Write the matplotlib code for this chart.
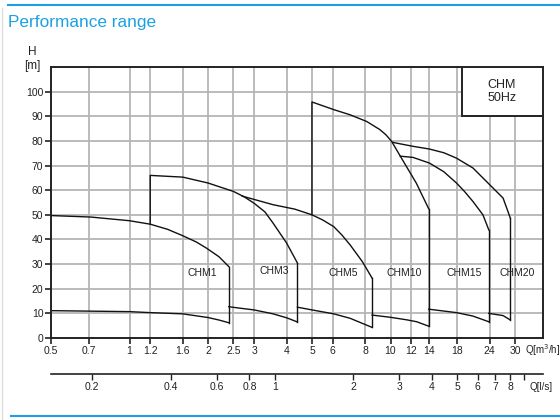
import numpy as np
import matplotlib
matplotlib.use("Agg")
import matplotlib.pyplot as plt
from matplotlib.lines import Line2D
from matplotlib.patches import Rectangle

plt.rcParams['font.family'] = ['Liberation Sans', 'DejaVu Sans']

# performance curves, Q in m3/h, H in m
chm1_top_q = [0.5, 0.71, 1.0, 1.2, 1.4, 1.6, 1.8, 1.97, 2.2, 2.4]
chm1_top_h = [49.7, 49.1, 47.6, 46.2, 44.1, 41.5, 39.0, 36.5, 33.0, 29.0]
chm1_bot_q = [0.5, 1.0, 1.2, 1.6, 2.0, 2.2, 2.4]
chm1_bot_h = [11.1, 10.7, 10.3, 9.8, 8.3, 7.3, 6.2]

chm3_top_q = [1.2, 1.2, 1.6, 2.0, 2.5, 2.75, 3.0, 3.3, 3.55, 4.0, 4.4]
chm3_top_h = [46.2, 66.0, 65.3, 62.9, 59.5, 57.3, 54.7, 51.2, 46.6, 38.5, 30.4]
chm3_bot_q = [2.4, 2.65, 3.0, 3.55, 4.0, 4.4]
chm3_bot_h = [12.7, 12.1, 11.4, 9.8, 8.2, 6.5]

chm5_top_q = [2.7, 3.55, 4.3, 5.0, 5.5, 6.06, 6.5, 7.0, 7.8, 8.5]
chm5_top_h = [57.6, 54.1, 52.3, 50.0, 47.9, 45.2, 41.9, 37.8, 31.0, 24.3]
chm5_bot_q = [4.4, 5.0, 6.06, 7.0, 8.5]
chm5_bot_h = [12.5, 11.4, 9.8, 8.0, 4.3]

chm10_top_q = [5.0, 5.0, 6.06, 7.0, 8.1, 9.1, 9.6, 10.1, 11.1, 12.55, 14.0]
chm10_top_h = [50.0, 95.8, 92.7, 90.6, 87.9, 84.6, 82.5, 79.8, 72.4, 62.9, 52.5]
chm10_bot_q = [8.5, 10.0, 11.5, 12.6, 14.0]
chm10_bot_h = [9.3, 8.4, 7.4, 6.6, 4.8]

chm15_top_q = [10.9, 12.2, 14.1, 16.0, 17.9, 19.2, 20.7, 22.6, 23.8]
chm15_top_h = [73.8, 73.3, 71.0, 67.5, 62.9, 59.5, 55.4, 50.0, 43.9]
chm15_bot_q = [14.0, 17.9, 20.7, 23.8]
chm15_bot_h = [11.7, 10.3, 8.9, 6.6]

chm20_top_q = [10.2, 12.2, 14.1, 16.0, 17.9, 20.7, 24.0, 27.0, 28.8]
chm20_top_h = [79.4, 77.8, 76.7, 75.2, 73.0, 69.0, 62.2, 56.8, 48.6]
chm20_bot_q = [23.8, 27.0, 28.8]
chm20_bot_h = [10.0, 9.1, 7.3]

labels = ["CHM1", "CHM3", "CHM5", "CHM10", "CHM15", "CHM20"]
label_q = [1.9, 3.6, 6.6, 11.3, 19.2, 30.5]
label_h = [26.5, 27.0, 26.5, 26.5, 26.5, 26.5]

q_ticks = [0.5, 0.7, 1, 1.2, 1.6, 2, 2.5, 3, 4, 5, 6, 8, 10, 12, 14, 18, 24, 30]
q_labels = ["0.5", "0.7", "1", "1.2", "1.6", "2", "2.5", "3", "4", "5", "6",
            "8", "10", "12", "14", "18", "24", "30"]
ls_ticks = [0.2, 0.4, 0.6, 0.8, 1, 2, 3, 4, 5, 6, 7, 8, 9]
ls_labels = ["0.2", "0.4", "0.6", "0.8", "1", "2", "3", "4", "5", "6", "7", "8", ""]
h_ticks = list(range(0, 101, 10))

curves = [
    (chm1_top_q, chm1_top_h, chm1_bot_q, chm1_bot_h),
    (chm3_top_q, chm3_top_h, chm3_bot_q, chm3_bot_h),
    (chm5_top_q, chm5_top_h, chm5_bot_q, chm5_bot_h),
    (chm10_top_q, chm10_top_h, chm10_bot_q, chm10_bot_h),
    (chm15_top_q, chm15_top_h, chm15_bot_q, chm15_bot_h),
    (chm20_top_q, chm20_top_h, chm20_bot_q, chm20_bot_h),
]

fig = plt.figure(figsize=(5.6, 4.2), dpi=100)
ax = fig.add_axes([51/560, 82/420, 492/560, 271/420])
ax.set_xscale('log')
ax.set_xlim(0.5, 38.4)
ax.set_ylim(0, 110)

grid_c = '#b5b5b5'
for q in q_ticks[1:]:
    ax.axvline(q, color=grid_c, lw=1.3, zorder=1)
for h in h_ticks[1:]:
    ax.axhline(h, color=grid_c, lw=1.3, zorder=1)

for tq, th, bq, bh in curves:
    ax.plot(tq, th, color='#111111', lw=1.0, zorder=3)
    ax.plot(bq, bh, color='#111111', lw=1.0, zorder=3)
    # right edge of the range
    ax.plot([tq[-1], bq[-1]], [th[-1], bh[-1]], color='#111111', lw=1.0, zorder=3)

for name, q, h in zip(labels, label_q, label_h):
    ax.text(q, h, name, fontsize=7.5, ha='center', va='center', color='#222222', zorder=4)

ax.set_xticks(q_ticks)
ax.set_xticklabels(q_labels)
ax.xaxis.set_minor_locator(matplotlib.ticker.NullLocator())
ax.set_yticks(h_ticks)
ax.tick_params(axis='both', labelsize=7.5, length=4, width=1.2, color='#222222',
               labelcolor='#222222', pad=1.5)
for s in ax.spines.values():
    s.set_linewidth(1.4)
    s.set_color('#222222')
    s.set_zorder(5)

ax.text(0.963, -0.045, "Q[m$^3$/h]", transform=ax.transAxes, fontsize=7,
        ha='left', va='center', color='#222222')

# l/s scale underneath
sec = ax.secondary_xaxis(-0.133, functions=(lambda q: q / 3.6, lambda l: l * 3.6))
sec.set_xticks(ls_ticks)
sec.set_xticklabels(ls_labels)
sec.xaxis.set_minor_locator(matplotlib.ticker.NullLocator())
sec.tick_params(labelsize=7.5, length=4, width=1.0, color='#222222',
                labelcolor='#222222', pad=2)
sec.spines['bottom'].set_linewidth(1.2)
sec.spines['bottom'].set_color('#222222')
ax.text(0.972, -0.18, "Q[l/s]", transform=ax.transAxes, fontsize=7,
        ha='left', va='center', color='#222222')

# model box
ax.add_patch(Rectangle((0.835, 0.819), 0.165, 0.181, transform=ax.transAxes,
                       facecolor='white', edgecolor='#222222', lw=1.4, zorder=6))
ax.text(0.916, 0.91, "CHM\n50Hz", transform=ax.transAxes, fontsize=9,
        ha='center', va='center', color='#222222', linespacing=1.15, zorder=7)

fig.text(32/560, 1 - 52/420, "H", fontsize=8.5, ha='center', va='center', color='#222222')
fig.text(32/560, 1 - 66/420, "[m]", fontsize=8.5, ha='center', va='center', color='#222222')

fig.text(8/560, 1 - 22/420, "Performance range", fontsize=12.4, color='#1ba1e2',
         ha='left', va='center')
fig.add_artist(Line2D([8/560, 1], [1 - 5/420, 1 - 5/420], color='#1ba1e2', lw=1.5))
fig.add_artist(Line2D([11/560, 1], [1 - 416/420, 1 - 416/420], color='#1ba1e2', lw=1.5))
fig.add_artist(Line2D([2/560, 2/560], [0, 1 - 8/420], color='#dddddd', lw=1.0))

fig.savefig("out.png", dpi=100)
